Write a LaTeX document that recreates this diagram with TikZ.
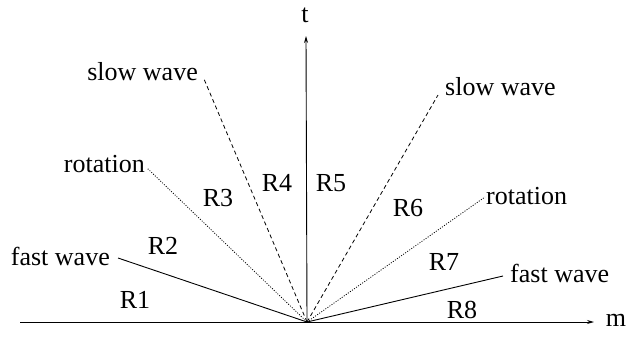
\documentclass[tikz,border=0pt]{standalone}
\usepackage{fontspec}
\setmainfont{Liberation Serif}
\usetikzlibrary{arrows.meta}
\begin{document}
\begin{tikzpicture}[x=1pt,y=-1pt,
  lbl/.style={font=\fontsize{26}{30}\selectfont, inner sep=0pt},
  ax/.style={line width=0.9pt, -{Stealth[length=7pt,width=4pt]}},
  fastw/.style={line width=0.9pt},
  rotw/.style={line width=0.8pt, dash pattern=on 1pt off 1.5pt},
  sloww/.style={line width=0.8pt, dash pattern=on 4pt off 3pt}]
\useasboundingbox (0,0) rectangle (626,338);
\coordinate (O) at (307,322);
\coordinate (L) at (20,322);
\coordinate (Mend) at (594,322);
\coordinate (Tend) at (306,36);
\node[lbl] (m) at (616,320) {m};
\node[lbl] (t) at (305,15) {t};
\draw[ax] (L) -- (Mend);
\draw[ax] (O) -- (Tend);
% left side
\coordinate (fl) at (118,258);
\coordinate (rl) at (147,168);
\coordinate (sl) at (204,79);
\draw[fastw] (O) -- (fl);
\draw[rotw] (O) -- (rl);
\draw[sloww] (O) -- (sl);
\node[lbl, anchor=east] (flt) at (110,256) {fast wave};
\node[lbl, anchor=east] (rlt) at (145,164) {rotation};
\node[lbl, anchor=east] (slt) at (198,72) {slow wave};
% right side
\coordinate (fr) at (503,276);
\coordinate (rr) at (485,197);
\coordinate (sr) at (438,95);
\draw[fastw] (O) -- (fr);
\draw[rotw] (O) -- (rr);
\draw[sloww] (O) -- (sr);
\node[lbl, anchor=west] (frt) at (510,273) {fast wave};
\node[lbl, anchor=west] (rrt) at (486,196) {rotation};
\node[lbl, anchor=west] (srt) at (445,87) {slow wave};
% regions
\node[lbl] (r1) at (135,300) {R1};
\node[lbl] (r2) at (163,246) {R2};
\node[lbl] (r3) at (218,198) {R3};
\node[lbl] (r4) at (277,183) {R4};
\node[lbl] (r5) at (331,183) {R5};
\node[lbl] (r6) at (408,208) {R6};
\node[lbl] (r7) at (444,262) {R7};
\node[lbl] (r8) at (462,310) {R8};
\end{tikzpicture}
\end{document}
